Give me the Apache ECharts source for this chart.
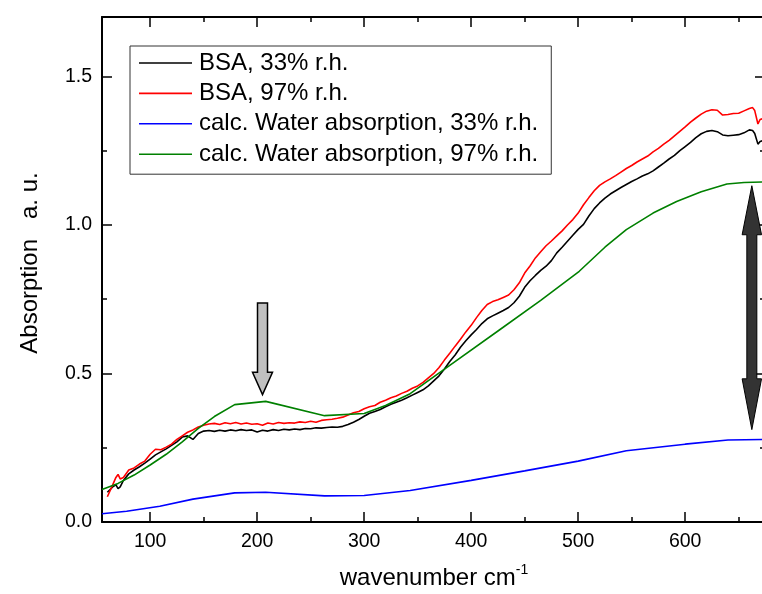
<!DOCTYPE html>
<html><head><meta charset="utf-8">
<script src="https://cdn.jsdelivr.net/npm/echarts@6/dist/echarts.min.js"></script>
<style>html,body{margin:0;padding:0;background:#fff}#c{width:762px;height:594px}</style>
</head><body><div id="c"></div><script>
// ---- data ----
const bsaWavenumber=[60,65,68,70,72,75,80,85,90,95,100,105,110,115,120,125,130,135,140,145,150,155,160,165,170,175,180,185,190,195,200,205,210,215,220,225,230,235,240,245,250,255,260,265,270,275,280,285,290,295,300,305,310,315,320,325,330,335,340,345,350,355,360,365,370,375,380,385,390,395,400,405,410,415,420,425,430,435,440,445,450,455,460,465,470,475,480,485,490,495,500,505,510,515,520,525,530,535,540,545,550,555,560,565,570,575,580,585,590,595,600,605,610,615,620,625,630,635,640,645,650,655,660,663,665,668,670,674];
const bsa33=[0.100,0.118,0.125,0.112,0.118,0.140,0.162,0.175,0.186,0.198,0.212,0.226,0.236,0.246,0.258,0.270,0.286,0.290,0.278,0.298,0.306,0.308,0.305,0.309,0.306,0.310,0.307,0.311,0.308,0.310,0.303,0.309,0.306,0.311,0.308,0.312,0.310,0.313,0.311,0.315,0.314,0.317,0.316,0.318,0.320,0.319,0.322,0.328,0.336,0.345,0.356,0.366,0.372,0.379,0.388,0.396,0.403,0.410,0.418,0.427,0.436,0.445,0.458,0.475,0.492,0.515,0.540,0.562,0.588,0.610,0.630,0.648,0.668,0.684,0.694,0.703,0.712,0.722,0.738,0.760,0.790,0.812,0.830,0.847,0.861,0.880,0.906,0.925,0.945,0.965,0.985,1.002,1.030,1.055,1.074,1.090,1.104,1.115,1.126,1.136,1.146,1.155,1.165,1.172,1.182,1.195,1.208,1.222,1.234,1.250,1.264,1.278,1.294,1.307,1.315,1.318,1.314,1.303,1.300,1.302,1.304,1.310,1.320,1.318,1.308,1.272,1.281,1.285];
const bsa97=[0.085,0.125,0.150,0.160,0.145,0.150,0.175,0.182,0.195,0.205,0.228,0.245,0.243,0.252,0.262,0.278,0.290,0.302,0.310,0.320,0.326,0.330,0.332,0.328,0.334,0.331,0.335,0.330,0.333,0.329,0.331,0.326,0.333,0.330,0.335,0.332,0.334,0.333,0.337,0.335,0.339,0.336,0.342,0.344,0.346,0.349,0.353,0.360,0.368,0.372,0.381,0.388,0.392,0.403,0.410,0.418,0.424,0.433,0.440,0.450,0.458,0.470,0.485,0.500,0.520,0.545,0.568,0.592,0.615,0.640,0.662,0.688,0.712,0.732,0.742,0.748,0.756,0.764,0.782,0.805,0.838,0.862,0.889,0.910,0.930,0.946,0.963,0.980,1.000,1.018,1.040,1.068,1.092,1.115,1.133,1.145,1.155,1.166,1.178,1.190,1.200,1.212,1.222,1.232,1.246,1.258,1.272,1.285,1.300,1.315,1.330,1.346,1.360,1.373,1.383,1.388,1.386,1.370,1.372,1.375,1.376,1.384,1.392,1.395,1.385,1.340,1.355,1.360];
const water33Wavenumber=[55,78,109,140,179,208,263,300,343,400,450,500,545,600,640,674];
const water33=[0.028,0.036,0.053,0.077,0.098,0.100,0.088,0.089,0.106,0.140,0.172,0.205,0.240,0.262,0.276,0.278];
const water97Wavenumber=[55,70,85,100,115,130,145,160,179,208,263,300,320,343,380,427,465,501,525,545,570,592,615,639,655,674];
const water97=[0.109,0.130,0.158,0.192,0.228,0.270,0.315,0.355,0.395,0.406,0.358,0.365,0.392,0.432,0.527,0.648,0.746,0.844,0.925,0.984,1.040,1.079,1.112,1.138,1.143,1.145];
const seriesNames=['BSA, 33% r.h.','BSA, 97% r.h.','calc. Water absorption, 33% r.h.','calc. Water absorption, 97% r.h.'];
const seriesColors=['#000000','#ff0000','#0000ff','#008000'];
const xMajorTicks=[100,200,300,400,500,600];
const xMinorTicks=[150,250,350,450,550,650];
const yMajorTicks=[0,0.5,1.0,1.5];
const yMinorTicks=[0.25,0.75,1.25];
const xRange=[55,674.6];
const yRange=[0,1.7];
// annotation arrows in data units: [x, yTop, yHeadBase, yTip]
const grayArrow=[205,0.737,0.504,0.429];
// double arrow: [x, topTip, topHeadBase, bottomHeadBase, bottomTip]
const doubleArrow=[662.3,1.132,0.967,0.482,0.311];

// ---- chart ----
const FONT='"Liberation Sans", Arial, Helvetica, sans-serif';
const chart=echarts.init(document.getElementById('c'),null,{renderer:'canvas'});
function zip(xs,ys){return xs.map((x,i)=>[x,ys[i]]);}
function xAx(pos,ticks,len,labels,line){
  const a={type:'value',position:pos,min:xRange[0],max:xRange[1],
    axisLine:{show:line,onZero:false,lineStyle:{color:'#000',width:2}},
    axisTick:{show:true,inside:true,length:len,customValues:ticks,lineStyle:{color:'#000',width:1.5}},
    axisLabel:{show:labels,margin:10,color:'#000',fontFamily:FONT,fontSize:19.5},
    splitLine:{show:false}};
  if(labels) a.axisLabel.customValues=ticks;
  return a;
}
function yAx(pos,ticks,len,labels,line){
  const a={type:'value',position:pos,min:yRange[0],max:yRange[1],
    axisLine:{show:line,onZero:false,lineStyle:{color:'#000',width:2}},
    axisTick:{show:true,inside:true,length:len,customValues:ticks,lineStyle:{color:'#000',width:1.5}},
    axisLabel:{show:labels,margin:10,color:'#000',fontFamily:FONT,fontSize:19.5,formatter:v=>v.toFixed(1)},
    splitLine:{show:false}};
  if(labels) a.axisLabel.customValues=ticks;
  return a;
}
const seriesData=[zip(bsaWavenumber,bsa33),zip(bsaWavenumber,bsa97),zip(water33Wavenumber,water33),zip(water97Wavenumber,water97)];
const option={
  animation:false,
  backgroundColor:'#fff',
  grid:{left:102,right:-3,top:17,bottom:72,containLabel:false,outerBoundsMode:'none'},
  xAxis:[xAx('bottom',xMajorTicks,10,true,true),xAx('bottom',xMinorTicks,5,false,false),
         xAx('top',xMajorTicks,10,false,true),xAx('top',xMinorTicks,5,false,false)],
  yAxis:[yAx('left',yMajorTicks,10,true,true),yAx('left',yMinorTicks,5,false,false),
         yAx('right',yMajorTicks,10,false,true),yAx('right',yMinorTicks,5,false,false)],
  legend:{show:true,orient:'vertical',left:130,top:46,padding:[5,13,8,9],itemGap:6.4,itemWidth:53,itemHeight:1.6,
    icon:'rect',borderColor:'#333',borderWidth:1,backgroundColor:'#fff',selectedMode:false,
    textStyle:{fontFamily:FONT,fontSize:24,color:'#000',lineHeight:24,padding:[0,0,0,2]},
    data:seriesNames.map((n,i)=>({name:n,icon:'rect',itemStyle:{color:seriesColors[i],borderWidth:0}}))},
  series:seriesNames.map((n,i)=>({name:n,type:'line',xAxisIndex:0,yAxisIndex:0,data:seriesData[i],
    symbol:'none',showSymbol:false,smooth:false,clip:true,
    lineStyle:{color:seriesColors[i],width:1.6},itemStyle:{color:seriesColors[i]}}))
};
chart.setOption(option);
function px(x,y){return chart.convertToPixel({xAxisIndex:0,yAxisIndex:0},[x,y]);}
const g=[];
// axis titles
g.push({type:'text',z:10,style:{x:434,y:578,text:'{a|wavenumber cm}{s|-1}',align:'center',verticalAlign:'middle',
  rich:{a:{fontFamily:FONT,fontSize:24,fill:'#000'},s:{fontFamily:FONT,fontSize:14,fill:'#000',padding:[0,0,16,0]}}}});
g.push({type:'text',z:10,x:30,y:263,rotation:Math.PI/2,style:{text:'Absorption   a. u.',align:'center',verticalAlign:'middle',
  fontFamily:FONT,fontSize:24,fill:'#000'}});
// gray arrow
(function(){
  const t=px(grayArrow[0],grayArrow[1]),b=px(grayArrow[0],grayArrow[2]),tp=px(grayArrow[0],grayArrow[3]);
  const cx=t[0],sw=5,hw=10;
  g.push({type:'polygon',z:20,shape:{points:[[cx-sw,t[1]],[cx+sw,t[1]],[cx+sw,b[1]],[cx+hw,b[1]],[cx,tp[1]],[cx-hw,b[1]],[cx-sw,b[1]]]},
    style:{fill:'#c0c0c0',stroke:'#000',lineWidth:1.5}});
})();
// double arrow
(function(){
  const a=px(doubleArrow[0],doubleArrow[1]),b=px(doubleArrow[0],doubleArrow[2]),c=px(doubleArrow[0],doubleArrow[3]),d=px(doubleArrow[0],doubleArrow[4]);
  const cx=a[0],sw=5,hw=9.7;
  g.push({type:'polygon',z:20,shape:{points:[[cx,a[1]],[cx+hw,b[1]],[cx+sw,b[1]],[cx+sw,c[1]],[cx+hw,c[1]],[cx,d[1]],[cx-hw,c[1]],[cx-sw,c[1]],[cx-sw,b[1]],[cx-hw,b[1]]]},
    style:{fill:'#333333',stroke:'#000',lineWidth:1}});
})();
chart.setOption({graphic:g});
</script></body></html>
